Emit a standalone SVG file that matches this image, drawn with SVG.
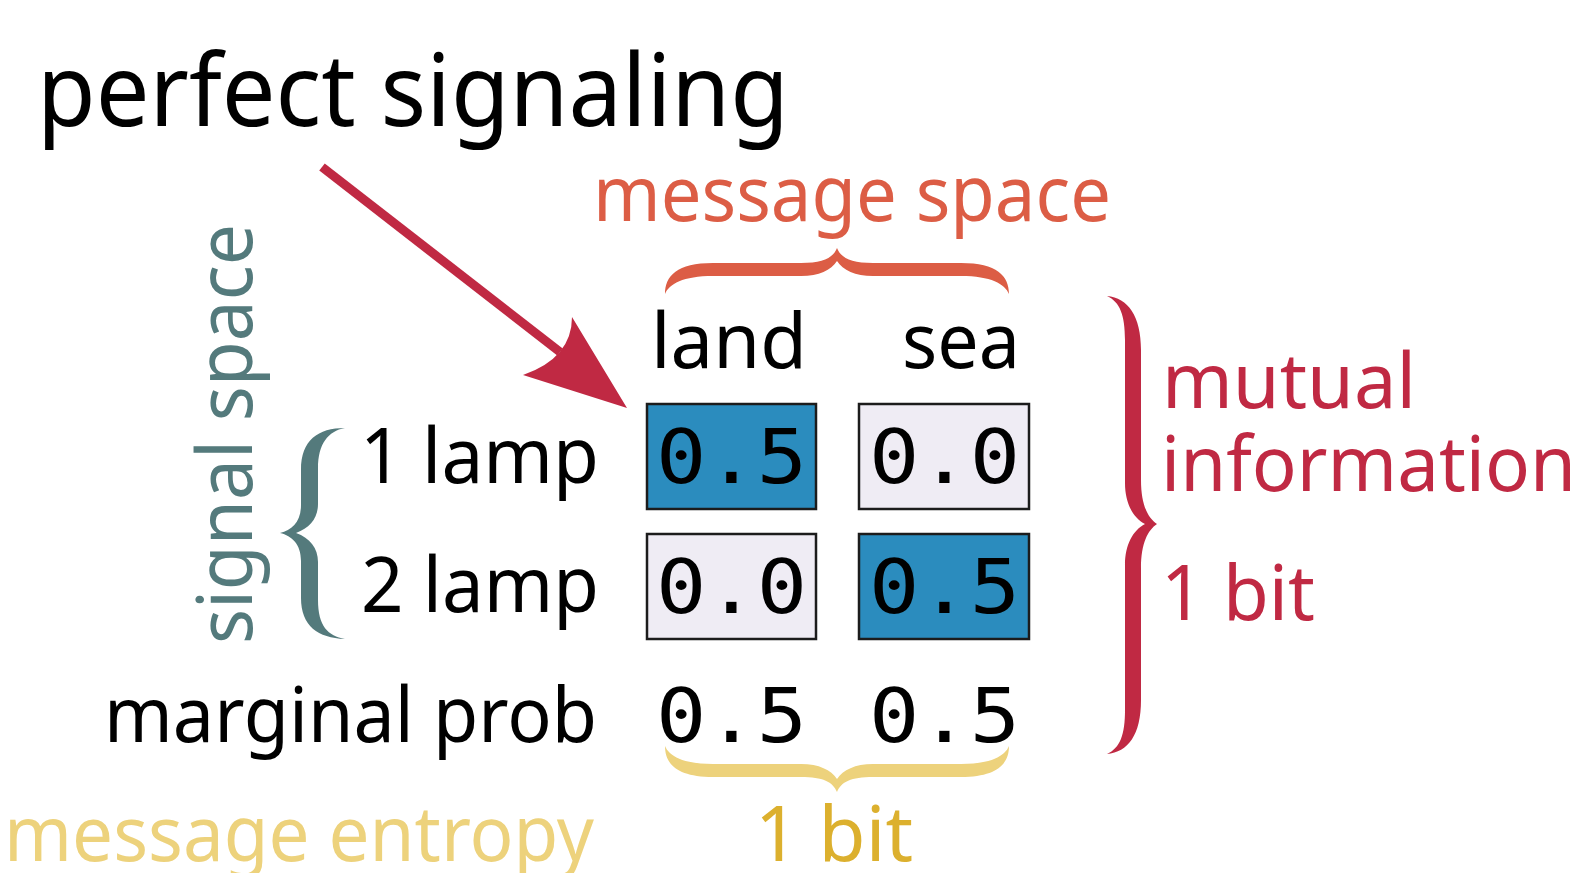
<svg xmlns="http://www.w3.org/2000/svg" width="1585" height="873" viewBox="0 0 1585 873">
  <style>
    .lbl { font-family: "Noto Sans", "Open Sans", sans-serif; font-size: 76px; }
    .title { font-family: "Noto Sans", "Open Sans", sans-serif; font-size: 101px; fill: #000; }
    .num { font-family: "DejaVu Sans Mono", monospace; font-size: 74px; fill: #000; }
    .cell { stroke: #1c1c1c; stroke-width: 2.5; }
    .on { fill: #2b8cbe; }
    .off { fill: #efecf4; }
    .ink { fill: #000; }
    .orange { fill: #dc5d45; }
    .red { fill: #c02943; }
    .teal { fill: #547a7c; }
    .pale { fill: #edd27c; }
    .gold { fill: #dcb02e; }
  </style>
  <defs>
    <!-- curly brace, tip up, 344 wide x 46 high -->
    <path id="hbrace" d="M0,46 C0,28 12,15 48,15 L136,15 C158,15 168,10 172,0 C176,10 186,15 208,15 L296,15 C332,15 344,28 344,46 C340,36 326,28 296,28 L208,28 C190,28 178,22 172,13 C166,22 154,28 136,28 L48,28 C18,28 4,36 0,46 Z"/>
  </defs>

  <rect width="1585" height="873" fill="#fff"/>

  <g id="title">
    <text class="title" x="37" y="126" textLength="752" lengthAdjust="spacingAndGlyphs">perfect signaling</text>
  </g>

  <g id="message-space">
    <text class="lbl orange" x="593" y="221" textLength="518" lengthAdjust="spacingAndGlyphs">message space</text>
    <use href="#hbrace" class="orange" transform="translate(665,248)"/>
  </g>

  <g id="column-labels">
    <text class="lbl ink" x="651" y="368" textLength="156" lengthAdjust="spacingAndGlyphs">land</text>
    <text class="lbl ink" x="902" y="368" textLength="118" lengthAdjust="spacingAndGlyphs">sea</text>
  </g>

  <g id="signal-space">
    <text class="lbl teal" transform="translate(252,640) rotate(-90)" x="-4" y="0" textLength="420" lengthAdjust="spacingAndGlyphs">signal space</text>
    <path class="teal" d="M345,428 C318,428 301,440 301,470 L301,505 C301,522 292,530 280,533 C292,536 301,544 301,561 L301,598 C301,626 318,638 345,639 C328,636 318,626 318,600 L318,562 C318,548 310,538 296,533 C310,528 318,518 318,504 L318,468 C318,444 328,431 345,428 Z"/>
  </g>

  <g id="row-labels">
    <text class="lbl ink" x="360" y="483" textLength="239" lengthAdjust="spacingAndGlyphs">1 lamp</text>
    <text class="lbl ink" x="361" y="612" textLength="238" lengthAdjust="spacingAndGlyphs">2 lamp</text>
    <text class="lbl ink" x="104" y="742" textLength="493" lengthAdjust="spacingAndGlyphs">marginal prob</text>
  </g>

  <g id="cell-1lamp-land">
    <rect class="cell on" x="647" y="404" width="169" height="105"/>
    <text class="num" x="656" y="483" textLength="151" lengthAdjust="spacingAndGlyphs">0.5</text>
  </g>
  <g id="cell-1lamp-sea">
    <rect class="cell off" x="859" y="404" width="170" height="105"/>
    <text class="num" x="869" y="483" textLength="151" lengthAdjust="spacingAndGlyphs">0.0</text>
  </g>
  <g id="cell-2lamp-land">
    <rect class="cell off" x="647" y="534" width="169" height="105"/>
    <text class="num" x="656" y="613" textLength="151" lengthAdjust="spacingAndGlyphs">0.0</text>
  </g>
  <g id="cell-2lamp-sea">
    <rect class="cell on" x="859" y="534" width="170" height="105"/>
    <text class="num" x="869" y="613" textLength="151" lengthAdjust="spacingAndGlyphs">0.5</text>
  </g>

  <g id="marginals">
    <text class="num" x="656" y="742" textLength="151" lengthAdjust="spacingAndGlyphs">0.5</text>
    <text class="num" x="869" y="742" textLength="151" lengthAdjust="spacingAndGlyphs">0.5</text>
  </g>

  <g id="message-entropy">
    <use href="#hbrace" class="pale" transform="translate(665,792) scale(1,-1)"/>
    <text class="lbl pale" x="4" y="861" textLength="590" lengthAdjust="spacingAndGlyphs">message entropy</text>
    <text class="lbl gold" x="755" y="861" textLength="158" lengthAdjust="spacingAndGlyphs">1 bit</text>
  </g>

  <g id="mutual-information">
    <path class="red" d="M1107,296 C1128,298 1141,316 1141,350 L1141,480 C1141,505 1148,518 1157,524 C1148,530 1141,543 1141,568 L1141,700 C1141,735 1128,752 1107,754 C1120,748 1125,735 1125,710 L1125,565 C1125,545 1133,530 1145,524 C1133,518 1125,503 1125,483 L1125,340 C1125,315 1120,302 1107,296 Z"/>
    <text class="lbl red" x="1162" y="408" textLength="254" lengthAdjust="spacingAndGlyphs">mutual</text>
    <text class="lbl red" x="1161" y="491" textLength="415" lengthAdjust="spacingAndGlyphs">information</text>
    <text class="lbl red" x="1161" y="620" textLength="154" lengthAdjust="spacingAndGlyphs">1 bit</text>
  </g>

  <g id="connectors">
    <line x1="322" y1="167" x2="560" y2="352" stroke="#c02943" stroke-width="9"/>
    <path fill="#c02943" d="M627,408 L523,375 Q572,358 572,317 Z"/>
  </g>
</svg>
